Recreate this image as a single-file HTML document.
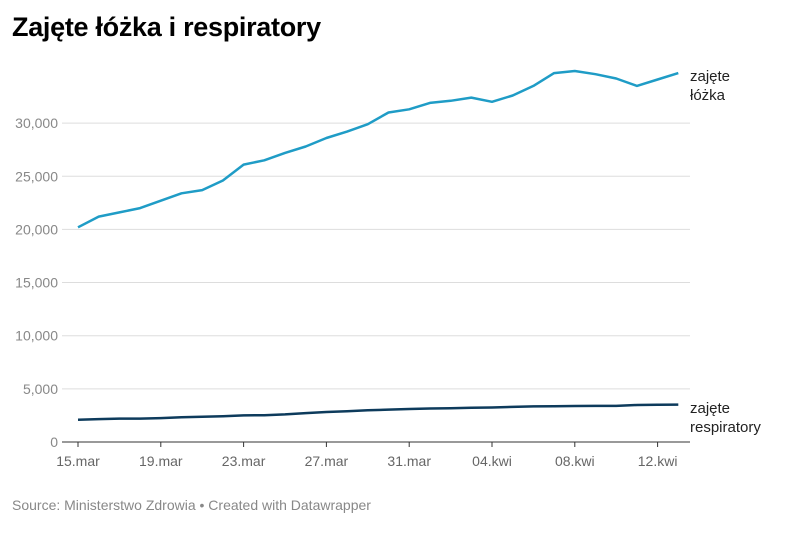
<!DOCTYPE html>
<html><head><meta charset="utf-8"><style>
body{margin:0;background:#fff;font-family:"Liberation Sans",sans-serif;}
#wrap{position:relative;width:788px;height:533px;overflow:hidden}
h1{position:absolute;left:12px;top:12px;margin:0;font-size:27px;font-weight:bold;color:#000;letter-spacing:-0.3px}
.src{position:absolute;left:12px;top:497px;font-size:14px;color:#888}
</style></head><body>
<div id="wrap">
<h1>Zajęte łóżka i respiratory</h1>
<svg id="chart" width="788" height="533" style="position:absolute;left:0;top:0"></svg>
<div class="src">Source: Ministerstwo Zdrowia • Created with Datawrapper</div>
</div>
<script>
const beds=[20.2,21.2,21.6,22.0,22.7,23.4,23.7,24.6,26.1,26.5,27.2,27.8,28.6,29.2,29.9,31.0,31.3,31.9,32.1,32.4,32.0,32.6,33.5,34.7,34.9,34.6,34.2,33.5,34.1,34.7].map(v=>v*1000);
const resp=[2100,2150,2200,2200,2250,2320,2370,2420,2500,2520,2600,2720,2820,2900,2980,3050,3100,3150,3170,3230,3250,3300,3350,3370,3390,3400,3400,3480,3500,3520];
const yTicks=[0,5000,10000,15000,20000,25000,30000];
const yTickLabels=["0","5,000","10,000","15,000","20,000","25,000","30,000"];
const xTickIdx=[0,4,8,12,16,20,24,28];
const xTickLabels=["15.mar","19.mar","23.mar","27.mar","31.mar","04.kwi","08.kwi","12.kwi"];
const svg=document.getElementById('chart');const NS='http://www.w3.org/2000/svg';
const x=i=>78+i*20.7;const y=v=>442-v*0.01063;
function mk(t,a){const e=document.createElementNS(NS,t);for(const k in a)e.setAttribute(k,a[k]);svg.appendChild(e);return e;}
yTicks.forEach((v,i)=>{
 const g=mk('line',{x1:62,x2:690,y1:y(v),y2:y(v),stroke:v===0?'#333':'#ddd','stroke-width':1});
 
 
 const t=mk('text',{x:58,y:y(v)+5,'text-anchor':'end','font-size':14,fill:'#888','font-family':'Liberation Sans, sans-serif'});
 t.textContent=yTickLabels[i];
 
 
});
xTickIdx.forEach((d,i)=>{
 const l=mk('line',{x1:x(d),x2:x(d),y1:442,y2:447,stroke:'#333'});
 
 
 const t=mk('text',{x:x(d),y:466,'text-anchor':'middle','font-size':14,fill:'#666','font-family':'Liberation Sans, sans-serif'});
 t.textContent=xTickLabels[i];
 
 
});
function line(arr,col,name){
 const p=mk('path',{d:arr.map((v,i)=>(i?'L':'M')+x(i).toFixed(1)+','+y(v).toFixed(1)).join(''),fill:'none',stroke:col,'stroke-width':2.5,'stroke-linejoin':'round'});
 
 
}
line(beds,'#1f9cc6','beds-line');
line(resp,'#0d3b5c','respirators-line');
function lab(lines,yy,name){
 lines.forEach((s,i)=>{const t=mk('text',{x:690,y:yy+i*19,'font-size':15,fill:'#222','font-family':'Liberation Sans, sans-serif'});t.textContent=s;
 
 });
}
lab(['zajęte','łóżka'],81,'beds-label');
lab(['zajęte','respiratory'],413,'respirators-label');
</script>
</body></html>
